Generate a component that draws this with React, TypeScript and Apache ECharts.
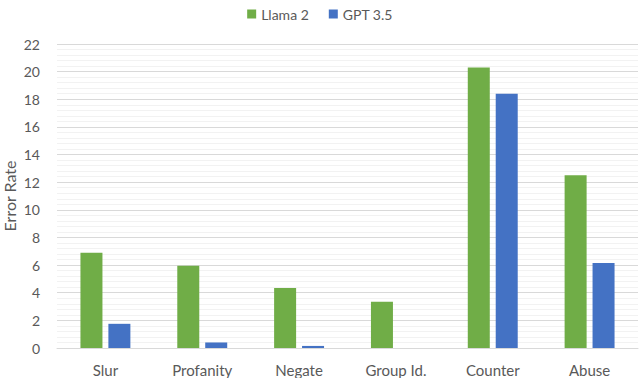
import React, { useEffect, useRef } from "react";
import * as echarts from "echarts";

const categories = ["Slur", "Profanity", "Negate", "Group Id.", "Counter", "Abuse"];
const llama2 = [6.9, 5.95, 4.35, 3.35, 20.3, 12.5];
const gpt35 = [1.75, 0.4, 0.15, 0, 18.4, 6.15];
const seriesNames = ["Llama 2", "GPT 3.5"];

const FONT = "Lato, 'Noto Sans', sans-serif";
const TXT = "#595959";

export default function App() {
  const ref = useRef<HTMLDivElement>(null);
  useEffect(() => {
    if (!ref.current) return;
    const chart = echarts.init(ref.current, null, { renderer: "svg" });
    chart.setOption({
      animation: false,
      textStyle: { fontFamily: FONT },
      legend: {
        top: 2,
        left: "center",
        itemWidth: 9,
        itemHeight: 9,
        itemGap: 20,
        icon: "rect",
        textStyle: { color: TXT, fontSize: 14, fontFamily: FONT },
        data: seriesNames,
      },
      grid: { left: 57, right: 2, top: 44, bottom: 30, outerBoundsMode: "none", containLabel: false },
      xAxis: {
        type: "category",
        data: categories,
        axisLine: { lineStyle: { color: "#d9d9d9" } },
        axisTick: { show: false },
        axisLabel: { color: TXT, fontSize: 15, margin: 14, fontFamily: FONT },
      },
      yAxis: {
        type: "value",
        min: 0,
        max: 22,
        interval: 2,
        name: "Error Rate",
        nameLocation: "middle",
        nameGap: 40,
        nameMoveOverlap: false,
        nameTextStyle: { color: TXT, fontSize: 16, fontFamily: FONT },
        axisLabel: { color: TXT, fontSize: 14, margin: 17, fontFamily: FONT },
        axisLine: { show: false },
        axisTick: { show: false },
        splitLine: { lineStyle: { color: "#d9d9d9", width: 1 } },
        minorTick: { show: false, splitNumber: 5 },
        minorSplitLine: { show: true, lineStyle: { color: "#f2f2f2", width: 1 } },
      },
      series: [
        {
          name: seriesNames[0],
          type: "bar",
          data: llama2,
          barWidth: 22,
          barGap: "27%",
          itemStyle: { color: "#70AD47" },
        },
        {
          name: seriesNames[1],
          type: "bar",
          data: gpt35,
          barWidth: 22,
          itemStyle: { color: "#4472C4" },
        },
      ],
    });
    return () => chart.dispose();
  }, []);
  return <div ref={ref} style={{ width: 640, height: 378, position: "absolute", left: 0, top: 0, background: "#fff" }} />;
}
